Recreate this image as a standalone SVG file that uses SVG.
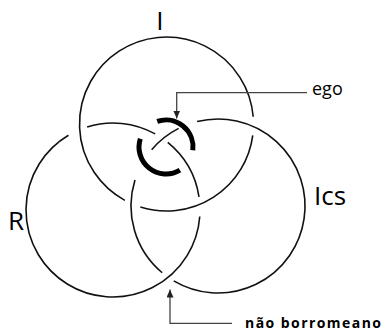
<svg xmlns="http://www.w3.org/2000/svg" width="383" height="332" viewBox="0 0 383 332">
<style>
.ring{fill:none;stroke:#111;stroke-width:1.6;stroke-linecap:butt}
.ego{fill:none;stroke:#000;stroke-width:5;stroke-linecap:butt}
.conn{fill:none;stroke:#444;stroke-width:1.3}
.lbl{font-family:"Open Sans","DejaVu Sans",sans-serif;fill:#000;font-weight:500}
.bold{font-weight:700}
</style>
<defs>
<marker id="ah" markerUnits="userSpaceOnUse" markerWidth="8" markerHeight="8" refX="8" refY="3.5" orient="auto">
<path d="M0,0 L8,3.5 L0,7 z" fill="#222"/>
</marker>
</defs>
<rect width="383" height="332" fill="#fff"/>
<g id="I">
<path class="ring" d="M252.75,135.36 A87,87 0 0 1 140.34,206.97"/>
<path class="ring" d="M124.85,200.39 A87,87 0 1 1 253.20,116.72"/>
<text class="lbl" x="160" y="30" font-size="26" text-anchor="middle">I</text>
</g>
<g id="R">
<path class="ring" d="M199.76,216.52 A87,87 0 1 1 68.45,135.27"/>
<path class="ring" d="M87.13,126.93 A87,87 0 0 1 155.18,133.91"/>
<path class="ring" d="M167.75,142.39 A87,87 0 0 1 199.0,196.84"/>
<text class="lbl" x="16" y="230" font-size="26" text-anchor="middle">R</text>
</g>
<g id="Ics">
<path class="ring" d="M197.10,121.55 A87,87 0 1 1 173.72,280.88"/>
<path class="ring" d="M162.20,272.75 A87,87 0 0 1 134.98,179.99"/>
<path class="ring" d="M151.65,149.73 A87,87 0 0 1 178.64,128.41"/>
<text class="lbl" x="330" y="205" font-size="26" text-anchor="middle">Ics</text>
</g>
<g id="ego">
<path class="ego" d="M157.21,121.47 A27,27 0 0 1 192.80,150.29"/>
<path class="ego" d="M179.91,170.14 A27,27 0 0 1 140.32,138.66"/>
<text class="lbl" x="312" y="95" font-size="18">ego</text>
</g>
<g id="nao-borromeano">
<text class="lbl bold" x="245" y="328" font-size="14" textLength="136" lengthAdjust="spacing">não borromeano</text>
</g>
<g id="connectors">
<path class="conn" d="M307,92.7 H176.7 V118.5" marker-end="url(#ah)"/>
<path class="conn" d="M232,323.3 H170 V289.5" marker-end="url(#ah)"/>
</g>
</svg>
